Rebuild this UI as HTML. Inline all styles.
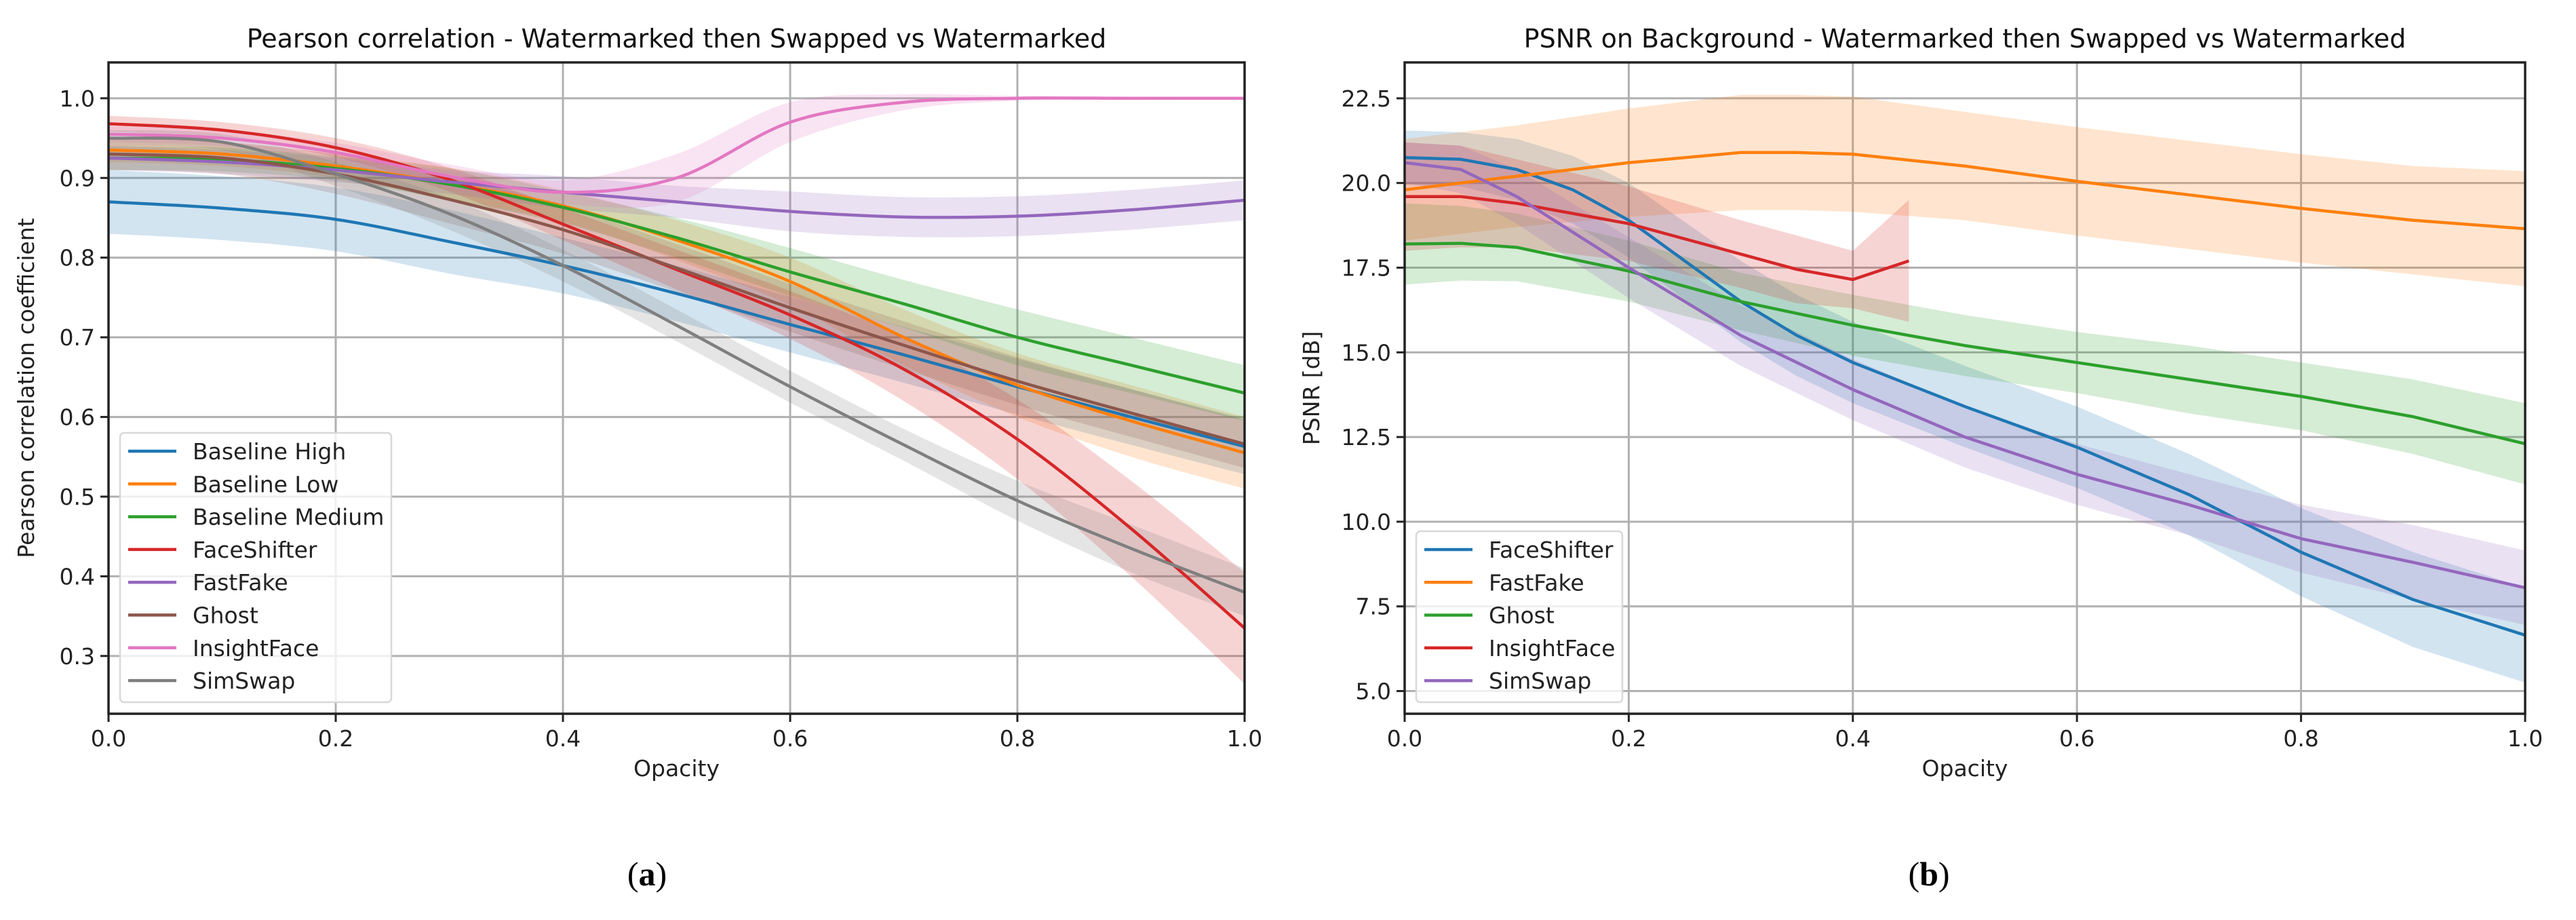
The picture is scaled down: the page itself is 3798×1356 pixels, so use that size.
<!DOCTYPE html>
<html><head><meta charset="utf-8"><style>
html,body{margin:0;padding:0;background:#fff;}
svg{display:block;font-family:"DejaVu Sans","Liberation Sans",sans-serif;}
</style></head><body>
<svg id="fig" width="3798" height="1356" viewBox="0 0 3798 1356" xmlns="http://www.w3.org/2000/svg"></svg>
<script>
// ---------- Chart (a) data ----------
const xA = [0,0.1,0.2,0.3,0.4,0.5,0.6,0.7,0.8,0.9,1.0];
const namesA = ["Baseline High","Baseline Low","Baseline Medium","FaceShifter","FastFake","Ghost","InsightFace","SimSwap"];
const colorsA = ["#1f77b4","#ff7f0e","#2ca02c","#d62728","#9467bd","#8c564b","#e377c2","#7f7f7f"];
const baselineHigh = [0.87,0.862,0.848,0.82,0.79,0.755,0.716,0.678,0.638,0.600,0.563];
const baselineHighBand = [0.04,0.04,0.04,0.04,0.035,0.035,0.035,0.035,0.035,0.035,0.035];
const baselineLow = [0.935,0.93,0.915,0.893,0.865,0.822,0.77,0.70,0.64,0.595,0.555];
const baselineLowBand = [0.015,0.015,0.015,0.02,0.02,0.025,0.03,0.035,0.04,0.045,0.045];
const baselineMedium = [0.925,0.923,0.912,0.892,0.863,0.825,0.782,0.742,0.70,0.665,0.63];
const baselineMediumBand = [0.015,0.015,0.015,0.02,0.02,0.025,0.03,0.03,0.035,0.035,0.035];
const faceShifter = [0.968,0.96,0.938,0.898,0.842,0.785,0.728,0.66,0.572,0.46,0.335];
const faceShifterBand = [0.01,0.01,0.012,0.015,0.02,0.025,0.03,0.04,0.05,0.06,0.07];
const fastFake = [0.925,0.92,0.91,0.895,0.882,0.87,0.858,0.851,0.852,0.86,0.872];
const fastFakeBand = [0.015,0.015,0.015,0.015,0.02,0.02,0.025,0.025,0.025,0.025,0.025];
const ghost = [0.93,0.925,0.905,0.873,0.835,0.787,0.737,0.69,0.645,0.605,0.566];
const ghostBand = [0.02,0.02,0.025,0.03,0.03,0.03,0.03,0.03,0.03,0.03,0.03];
const insightFace = [0.955,0.95,0.932,0.902,0.882,0.90,0.97,0.995,1.0,1.0,1.0];
const insightFaceBand = [0.01,0.01,0.012,0.015,0.015,0.03,0.025,0.01,0.003,0.002,0.002];
const simSwap = [0.95,0.945,0.905,0.855,0.79,0.715,0.638,0.565,0.495,0.435,0.38];
const simSwapBand = [0.01,0.01,0.015,0.02,0.02,0.02,0.02,0.02,0.025,0.03,0.03];
const seriesA = [baselineHigh,baselineLow,baselineMedium,faceShifter,fastFake,ghost,insightFace,simSwap];
const bandsA = [baselineHighBand,baselineLowBand,baselineMediumBand,faceShifterBand,fastFakeBand,ghostBand,insightFaceBand,simSwapBand];
const yTicksA = [0.3,0.4,0.5,0.6,0.7,0.8,0.9,1.0];
const yTickLabelsA = ["0.3","0.4","0.5","0.6","0.7","0.8","0.9","1.0"];
const xTicks = [0,0.2,0.4,0.6,0.8,1.0];
const xTickLabels = ["0.0","0.2","0.4","0.6","0.8","1.0"];

// ---------- Chart (b) data ----------
const namesB = ["FaceShifter","FastFake","Ghost","InsightFace","SimSwap"];
const colorsB = ["#1f77b4","#ff7f0e","#2ca02c","#d62728","#9467bd"];
const xB1 = [0,0.05,0.1,0.15,0.2,0.3,0.35,0.4,0.5,0.6,0.7,0.8,0.9,1.0];
const fsB = [20.75,20.7,20.4,19.8,18.9,16.5,15.5,14.7,13.4,12.2,10.8,9.1,7.7,6.65];
const fsBand = [0.8,0.8,0.9,1.0,1.1,1.2,1.2,1.2,1.2,1.2,1.2,1.3,1.4,1.4];
const xB2 = [0,0.1,0.2,0.3,0.35,0.4,0.5,0.6,0.7,0.8,0.9,1.0];
const ffB = [19.8,20.2,20.6,20.9,20.9,20.85,20.5,20.05,19.65,19.25,18.9,18.65];
const ffBand = [1.5,1.5,1.6,1.7,1.7,1.7,1.6,1.6,1.6,1.6,1.6,1.7];
const xB3 = [0,0.05,0.1,0.2,0.3,0.4,0.5,0.6,0.7,0.8,0.9,1.0];
const ghB = [18.2,18.22,18.1,17.4,16.5,15.8,15.2,14.7,14.2,13.7,13.1,12.3];
const ghBand = [1.2,1.1,1.0,0.9,0.85,0.9,0.9,0.9,1.0,1.0,1.1,1.2];
const xB4 = [0,0.05,0.1,0.2,0.3,0.35,0.4,0.45];
const ifB = [19.6,19.6,19.4,18.8,17.9,17.45,17.15,17.7];
const ifBand = [1.6,1.5,1.3,1.1,1.0,1.0,0.85,1.8];
const xB5 = [0,0.05,0.1,0.2,0.3,0.4,0.5,0.6,0.7,0.8,0.9,1.0];
const ssB = [20.6,20.4,19.6,17.5,15.5,13.9,12.5,11.4,10.5,9.5,8.8,8.05];
const ssBand = [0.6,0.7,0.8,0.9,0.9,0.9,0.9,0.9,0.9,1.0,1.1,1.1];
const xsB = [xB1,xB2,xB3,xB4,xB5];
const seriesB = [fsB,ffB,ghB,ifB,ssB];
const bandsB = [fsBand,ffBand,ghBand,ifBand,ssBand];
const yTicksB = [5.0,7.5,10.0,12.5,15.0,17.5,20.0,22.5];
const yTickLabelsB = ["5.0","7.5","10.0","12.5","15.0","17.5","20.0","22.5"];

const NS = "http://www.w3.org/2000/svg";
const svg = document.getElementById('fig');
function mk(tag, attrs, parent){
  const e = document.createElementNS(NS, tag);
  for (const k in attrs) e.setAttribute(k, attrs[k]);
  (parent||svg).appendChild(e);
  return e;
}
function smoothPath(pts){
  let d = "M"+pts[0][0]+","+pts[0][1];
  for (let i=0;i<pts.length-1;i++){
    const p0=pts[Math.max(0,i-1)], p1=pts[i], p2=pts[i+1], p3=pts[Math.min(pts.length-1,i+2)];
    const c1=[p1[0]+(p2[0]-p0[0])/6, p1[1]+(p2[1]-p0[1])/6];
    const c2=[p2[0]-(p3[0]-p1[0])/6, p2[1]-(p3[1]-p1[1])/6];
    d+=" C"+c1[0]+","+c1[1]+" "+c2[0]+","+c2[1]+" "+p2[0]+","+p2[1];
  }
  return d;
}
function linePath(pts){ return "M"+pts.map(p=>p[0]+","+p[1]).join(" L"); }
function bandPath(up, lo, smooth){
  const f = smooth?smoothPath:linePath;
  const a = f(up);
  const b = f(lo.slice().reverse()).replace(/^M/," L");
  return a+b+" Z";
}

function drawChart(cfg){
  const g = mk('g',{});
  
  
  const L=cfg.L,R=cfg.R,T=cfg.T,B=cfg.B;
  const sx = v => L + (v-0)/(1-0)*(R-L);
  const sy = v => B - (v-cfg.ymin)/(cfg.ymax-cfg.ymin)*(B-T);
  const grid = mk('g',{},g);
  
  
  xTicks.forEach(t=>{ mk('line',{x1:sx(t),x2:sx(t),y1:T,y2:B,stroke:"#b0b0b0","stroke-width":3},grid); });
  cfg.yTicks.forEach(t=>{ mk('line',{x1:L,x2:R,y1:sy(t),y2:sy(t),stroke:"#b0b0b0","stroke-width":3},grid); });
  cfg.series.forEach((s,i)=>{
    const xs = cfg.xs[i];
    const up = s.map((v,j)=>[sx(xs[j]), sy(v+cfg.bands[i][j])]);
    const lo = s.map((v,j)=>[sx(xs[j]), sy(v-cfg.bands[i][j])]);
    const band = mk('path',{d:bandPath(up,lo,cfg.smooth),fill:cfg.colors[i],"fill-opacity":0.2,stroke:"none"},g);
    
    
  });
  cfg.series.forEach((s,i)=>{
    const xs = cfg.xs[i];
    const pts = s.map((v,j)=>[sx(xs[j]), sy(v)]);
    const ln = mk('path',{d:cfg.smooth?smoothPath(pts):linePath(pts),fill:"none",stroke:cfg.colors[i],"stroke-width":4.5,"stroke-linejoin":"round"},g);
    
    
  });
  const fr = mk('rect',{x:L,y:T,width:R-L,height:B-T,fill:"none",stroke:"#222","stroke-width":3.5},g);
  
  
  xTicks.forEach((t,i)=>{
    mk('line',{x1:sx(t),x2:sx(t),y1:B,y2:B+12,stroke:"#222","stroke-width":3},g);
    const tx = mk('text',{x:sx(t),y:B+48,"font-size":33,"text-anchor":"middle",fill:"#222"},g);
    tx.textContent = xTickLabels[i];
    
    
  });
  cfg.yTicks.forEach((t,i)=>{
    mk('line',{x1:L-12,x2:L,y1:sy(t),y2:sy(t),stroke:"#222","stroke-width":3},g);
    const tx = mk('text',{x:L-20,y:sy(t)+12,"font-size":33,"text-anchor":"end",fill:"#222"},g);
    tx.textContent = cfg.yTickLabels[i];
    
    
  });
  const ttl = mk('text',{x:(L+R)/2,y:70,"font-size":38,"text-anchor":"middle",fill:"#111"},g);
  ttl.textContent = cfg.title;
  
  
  const xl = mk('text',{x:(L+R)/2,y:1144,"font-size":33,"text-anchor":"middle",fill:"#222"},g);
  xl.textContent = "Opacity";
  
  
  const yl = mk('text',{x:0,y:0,"font-size":33,"text-anchor":"middle",fill:"#222",transform:"translate("+cfg.ylx+","+((T+B)/2)+") rotate(-90)"},g);
  yl.textContent = cfg.ylabel;
  
  
  const lg = mk('g',{},g);
  
  
  mk('rect',{x:cfg.lx,y:cfg.ly,width:cfg.lw,height:cfg.lh,rx:6,fill:"#fff","fill-opacity":0.8,stroke:"#d8d8d8","stroke-width":2.5},lg);
  cfg.names.forEach((n,i)=>{
    const yy = cfg.ly+27+i*48.3;
    const e = mk('g',{},lg);
    
    
    mk('line',{x1:cfg.lx+12,x2:cfg.lx+83,y1:yy,y2:yy,stroke:cfg.colors[i],"stroke-width":4.5},e);
    const t = mk('text',{x:cfg.lx+107,y:yy+12,"font-size":33,fill:"#222"},e);
    t.textContent = n;
  });
  const cap = mk('text',{x:cfg.capx,y:1305,"font-size":50,"text-anchor":"middle","font-family":"Liberation Serif, serif",fill:"#000"},g);
  cap.innerHTML = '(<tspan font-weight="bold">'+cfg.cap+'</tspan>)';
  
  
}

drawChart({name:"chart-pearson",L:160,R:1835,T:92,B:1052,ymin:0.2275,ymax:1.045,
  xs:seriesA.map(()=>xA),series:seriesA,bands:bandsA,colors:colorsA,names:namesA,smooth:true,
  yTicks:yTicksA,yTickLabels:yTickLabelsA,title:"Pearson correlation - Watermarked then Swapped vs Watermarked",
  ylabel:"Pearson correlation coefficient",ylx:50,lx:177,ly:638,lw:400,lh:397,capx:954,cap:"a"});
drawChart({name:"chart-psnr",L:2071,R:3723,T:92,B:1052,ymin:4.33,ymax:23.56,
  xs:xsB,series:seriesB,bands:bandsB,colors:colorsB,names:namesB,smooth:false,
  yTicks:yTicksB,yTickLabels:yTickLabelsB,title:"PSNR on Background - Watermarked then Swapped vs Watermarked",
  ylabel:"PSNR [dB]",ylx:1945,lx:2088,ly:783,lw:304,lh:252,capx:2844,cap:"b"});
</script>
</body></html>
